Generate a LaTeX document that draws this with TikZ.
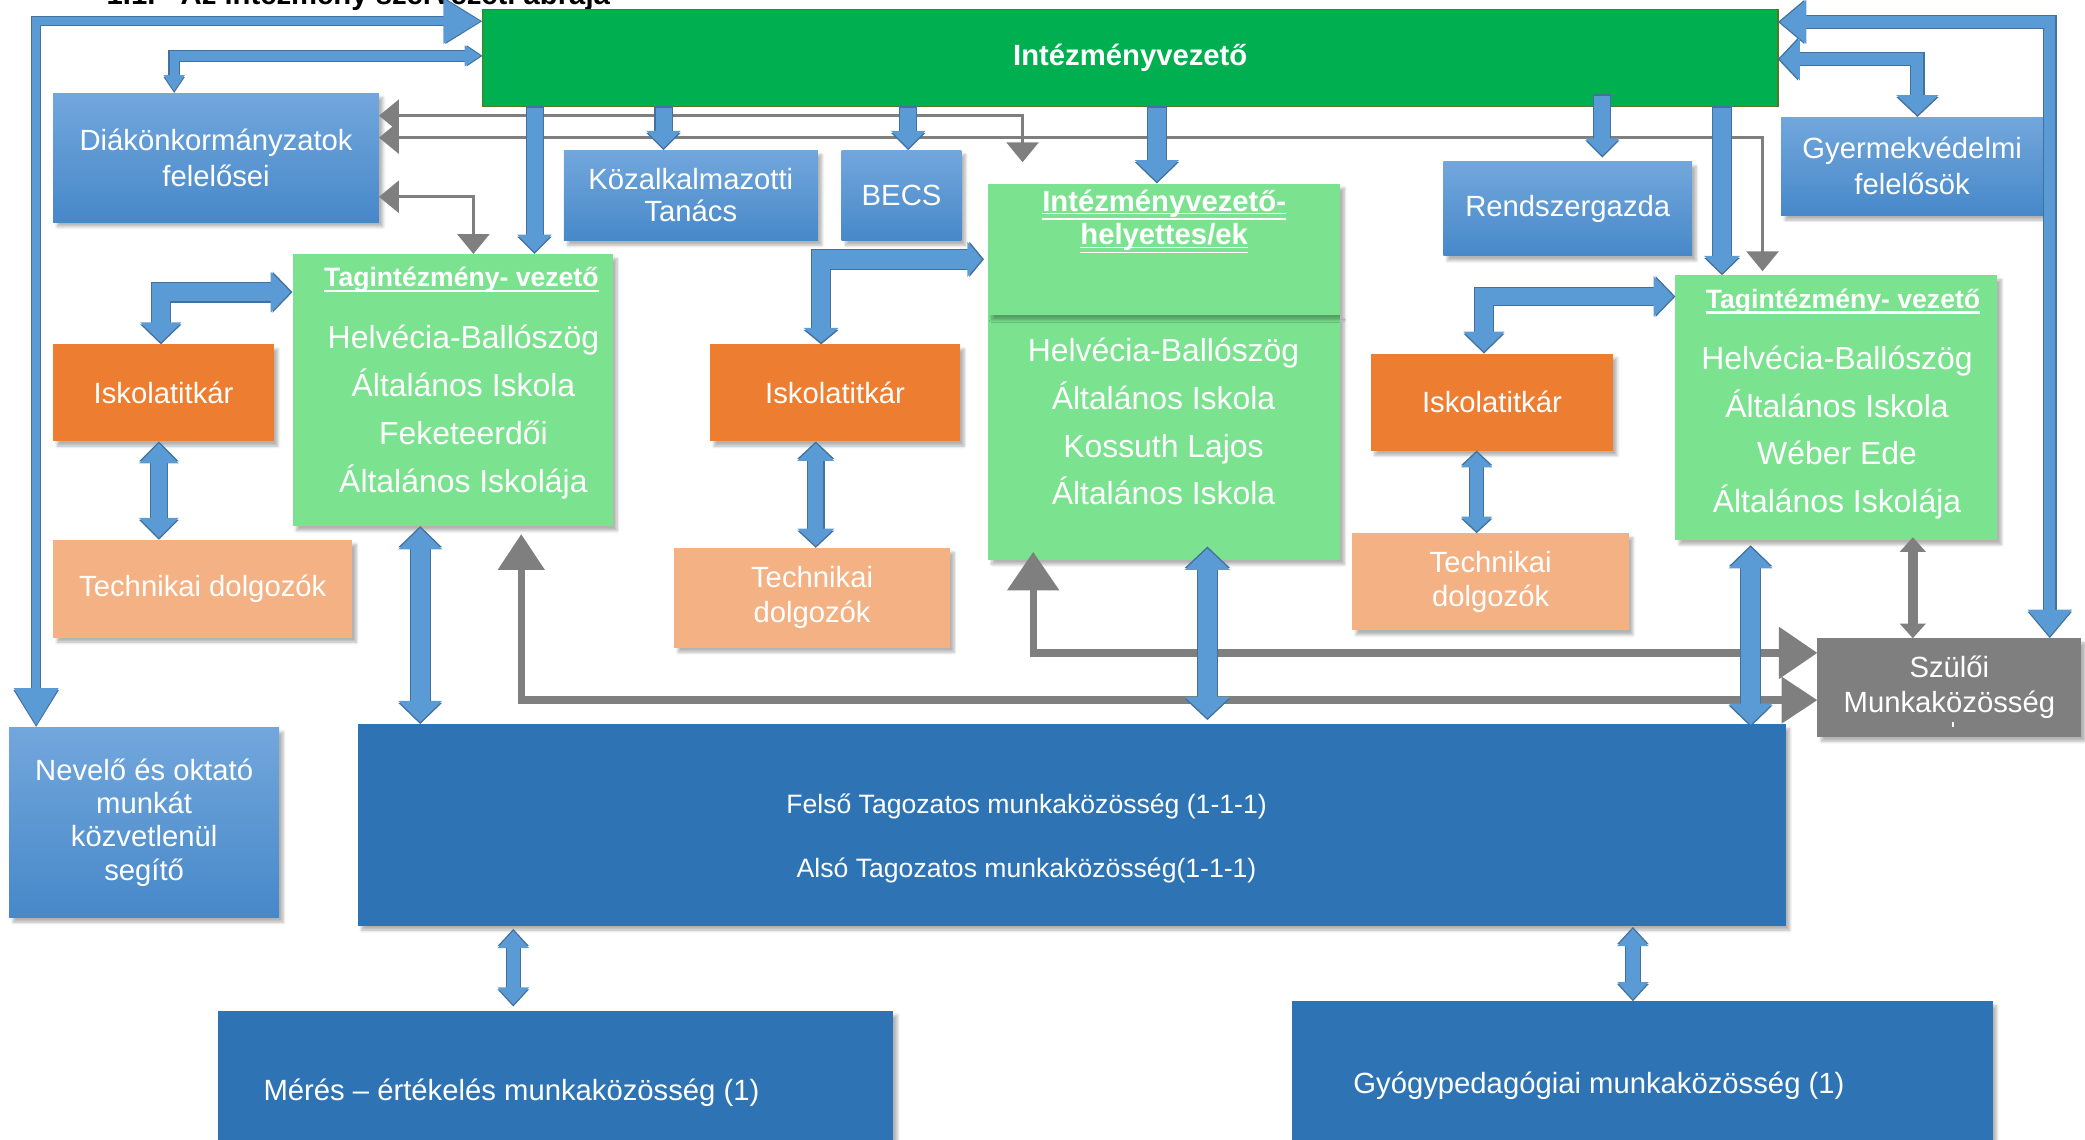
\documentclass[tikz,border=0pt]{standalone}
\usepackage{fontspec}
\setmainfont{Liberation Sans}
\usetikzlibrary{arrows.meta,shadows.blur,calc}

\definecolor{ivgreen}{HTML}{00B050}
\definecolor{ivedge}{HTML}{4F7A28}
\definecolor{lgreen}{HTML}{7BE38F}
\definecolor{orng}{HTML}{ED7D31}
\definecolor{peach}{HTML}{F4B183}
\definecolor{dblue}{HTML}{2E74B5}
\definecolor{btop}{HTML}{72A7DC}
\definecolor{bbot}{HTML}{4788C9}
\definecolor{grayc}{HTML}{7F7F7F}
\definecolor{arrfill}{HTML}{5B9BD5}
\definecolor{arredge}{HTML}{41719C}

\newcommand\fsz[2]{\fontsize{#1}{#2}\selectfont}
\newcommand\topgap[1]{\rule{0pt}{#1}}
\newcommand\hdrul[1]{\setbox0=\hbox{#1}\rlap{\rule[-4pt]{\wd0}{2pt}}\box0}
\newcommand\hdruul[1]{\setbox0=\hbox{#1}\rlap{\rule[-2.6pt]{\wd0}{1.2pt}}\rlap{\rule[-6.4pt]{\wd0}{1.2pt}}\box0}

\tikzset{
  bx/.style 2 args={rectangle, minimum width=#1, minimum height=#2, inner sep=0pt, outer sep=0pt,
    text=white, align=center, font=\fsz{22}{26}},
  sh/.style={blur shadow={shadow xshift=3pt, shadow yshift=-3.5pt, shadow blur steps=6, shadow opacity=30}},
  bluebx/.style={top color=btop, bottom color=bbot, sh},
  tagbx/.style={fill=lgreen, sh},
  iskbx/.style={fill=orng, sh},
  techbx/.style={fill=peach, sh},
  mkbx/.style={fill=dblue, sh},
  txt/.style={text=white, align=center, inner sep=0pt, anchor=north},
  blk/.style n args={3}{draw=arrfill, line width=#1, >={Triangle[width=#2,length=#3]},
    shorten >=1.5pt, shorten <=1.5pt,
    preaction={draw=arredge, line width=#1+1.6pt, shorten >=0pt, shorten <=0pt}},
  garr/.style n args={3}{draw=grayc, line width=#1, >={Triangle[width=#2,length=#3]}},
}

\begin{document}
\begin{tikzpicture}[x=1pt, y=-1pt]
\useasboundingbox (0,0) rectangle (1568,857);

\node[anchor=base west, inner sep=0pt, font=\fsz{22}{26}\bfseries] (title) at (80,3.5) {1.1.\hspace{19pt}Az intézmény szervezeti ábrája};

\node[bx={974pt}{73pt}, fill=ivgreen, draw=ivedge, line width=1.2pt, font=\fsz{22}{26}\bfseries] (ivez) at (850,43.5) {Intézményvezető};

\node[bx={245pt}{97pt}, bluebx, font=\fsz{22}{27}] (diak) at (162.5,118.5) {Diákönkormányzatok\\felelősei};
\node[bx={191pt}{68pt}, bluebx, font=\fsz{22}{24}] (kozalk) at (519.5,147) {Közalkalmazotti\\Tanács};
\node[bx={90pt}{68pt}, bluebx] (becs) at (678,147) {BECS};
\node[bx={187pt}{71pt}, bluebx] (rendsz) at (1179,157) {Rendszergazda};
\node[bx={197pt}{74pt}, bluebx, font=\fsz{22}{27}] (gyerm) at (1438,125) {Gyermekvédelmi\\felelősök};
\node[bx={203pt}{143pt}, bluebx, font=\fsz{22}{25}] (nevelo) at (108.4,618.5) {Nevelő és oktató\\munkát\\közvetlenül\\segítő};

\node[bx={265pt}{184pt}, tagbx] (helyb) at (875.5,329) {};
\node[bx={265pt}{99pt}, tagbx] (helyt) at (875.5,187.5) {};
\node[txt, font=\fsz{22}{25.5}\bfseries] (helyhdr) at (875.5,136.5) {\topgap{22pt}\hdruul{Intézményvezető-}\\\hdruul{helyettes/ek}};
\node[txt, font=\fsz{24}{36}] (helytxt) at (875,247.5) {\topgap{24pt}Helvécia-Ballószög\\Általános Iskola\\Kossuth Lajos\\Általános Iskola};

\node[bx={241pt}{204.6pt}, tagbx] (tag1) at (340.5,293.3) {};
\node[txt, font=\fsz{20}{24}\bfseries] (tag1hdr) at (347,195.6) {\topgap{20pt}\hdrul{Tagintézmény- vezető}};
\node[txt, font=\fsz{24}{36}] (tag1txt) at (348.5,238) {\topgap{24pt}Helvécia-Ballószög\\Általános Iskola\\Feketeerdői\\Általános Iskolája};

\node[bx={242pt}{199pt}, tagbx] (tag2) at (1381,306.5) {};
\node[txt, font=\fsz{20}{24}\bfseries] (tag2hdr) at (1386,211.7) {\topgap{20pt}\hdrul{Tagintézmény- vezető}};
\node[txt, font=\fsz{24}{35.7}] (tag2txt) at (1381.5,254) {\topgap{24pt}Helvécia-Ballószög\\Általános Iskola\\Wéber Ede\\Általános Iskolája};

\node[bx={166pt}{73pt}, iskbx] (isk1) at (123,295.5) {Iskolatitkár};
\node[bx={188pt}{73pt}, iskbx] (isk2) at (628,295.5) {Iskolatitkár};
\node[bx={182pt}{73pt}, iskbx] (isk3) at (1122,302.4) {Iskolatitkár};

\node[bx={225pt}{73.5pt}, techbx] (tech1) at (152.5,442.7) {Technikai dolgozók};
\node[bx={207.5pt}{75pt}, techbx] (tech2) at (610.7,449.5) {Technikai\\dolgozók};
\node[bx={208pt}{73pt}, techbx] (tech3) at (1121,437.5) {Technikai\\dolgozók};

\node[bx={198.5pt}{74pt}, fill=grayc, sh, font=\fsz{22}{26.4}] (szuloi) at (1466,517) {Szülői\\Munkaközösség};
\fill[white] (1468.3,543) rectangle (1469.5,547);

\node[bx={1073.7pt}{151.5pt}, mkbx] (felso) at (806,620.3) {};
\node[txt, font=\fsz{20}{48.4}] (felsotxt) at (772,591.6) {\topgap{20pt}Felső Tagozatos munkaközösség (1-1-1)\\Alsó Tagozatos munkaközösség(1-1-1)};

\node[bx={507.5pt}{110pt}, mkbx] (meres) at (418,815) {};
\node[anchor=base west, inner sep=0pt, text=white, font=\fsz{22}{26}] (merestxt) at (198,827.5) {Mérés – értékelés munkaközösség (1)};
\node[bx={527pt}{117pt}, mkbx] (gyogy) at (1235,811.5) {};
\node[anchor=base west, inner sep=0pt, text=white, font=\fsz{22}{26}] (gyogytxt) at (1017.6,822) {Gyógypedagógiai munkaközösség (1)};

\coordinate (t1a) at ([xshift=61.5pt]tag1.north);
\coordinate (kza) at ([xshift=-20.5pt]kozalk.north);
\coordinate (bca) at ([xshift=5pt]becs.north);
\coordinate (hta) at ([xshift=-5.5pt]helyt.north);
\coordinate (rsa) at ([xshift=26pt,yshift=3pt]rendsz.north);
\coordinate (t2a) at ([xshift=-86pt]tag2.north);
\coordinate (i1) at ([xshift=-3.5pt]isk1.south);
\coordinate (i2) at ([xshift=-14.5pt]isk2.south);
\coordinate (i3) at ([xshift=-11.5pt]isk3.south);
\coordinate (t1b) at ([xshift=-24.5pt]tag1.south);
\coordinate (hb) at ([xshift=32.5pt,yshift=10pt]helyb.south);
\coordinate (t2b) at ([xshift=-64.5pt,yshift=-4pt]tag2.south);
\coordinate (t2g) at ([xshift=57.5pt,yshift=2pt]tag2.south);
\coordinate (fm) at ([xshift=-420pt,yshift=-2.5pt]felso.south);
\coordinate (fg) at ([xshift=422pt,yshift=-1pt]felso.south);

\draw[garr={2.4pt}{24pt}{15pt}, <->] ([yshift=31.5pt]diak.east) -| ([xshift=-106.5pt,yshift=16pt]helyt.north);
\draw[garr={2.4pt}{24pt}{15pt}, <->] ([yshift=15pt]diak.east) -| ([xshift=-55.5pt,yshift=3pt]tag2.north);
\draw[garr={2.4pt}{24pt}{15pt}, <->] ([yshift=-29.5pt]diak.east) -| ([xshift=15.5pt]tag1.north);
\draw[garr={5.5pt}{34pt}{27pt}, <->] ([xshift=51.5pt,yshift=-6pt]tag1.south) |- ([yshift=-9.5pt]szuloi.west);
\draw[garr={5.5pt}{38pt}{29pt}, <->] ([xshift=-98.5pt,yshift=6pt]helyb.south) |- ([yshift=26pt]szuloi.west);
\draw[garr={8pt}{19pt}{11pt}, <->] (t2g) -- (t2g |- szuloi.north);

\draw[blk={6pt}{32pt}{28pt}, <->] ([yshift=-9pt]ivez.north west) -| ([xshift=20.3pt]nevelo.north west);
\draw[blk={7pt}{15pt}{12pt}, <->] ([yshift=1.5pt]ivez.west) -| ([xshift=-31.5pt]diak.north);
\draw[blk={8.5pt}{32pt}{20pt}, <->] ([yshift=-9.5pt]ivez.north east) -| ([xshift=75.5pt]szuloi.north);
\draw[blk={9pt}{31pt}{15pt}, <->] ([yshift=-1pt]ivez.east) -| ([xshift=4pt]gyerm.north);

\draw[blk={12pt}{25pt}{13pt}, ->] (ivez.south -| t1a) -- (t1a);
\draw[blk={12pt}{25pt}{13pt}, ->] (ivez.south -| kza) -- (kza);
\draw[blk={12pt}{25pt}{13pt}, ->] (ivez.south -| bca) -- (bca);
\draw[blk={14pt}{32pt}{16pt}, ->] (ivez.south -| hta) -- (hta);
\draw[blk={12pt}{25pt}{13pt}, ->] ($(ivez.south -| rsa)+(0,-9)$) -- (rsa);
\draw[blk={13pt}{26pt}{13pt}, ->] (ivez.south -| t2a) -- (t2a);

\draw[blk={14pt}{30pt}{15pt}, <->] ([yshift=73.6pt]tag1.west) -| ([xshift=-2pt]isk1.north);
\draw[blk={14pt}{26pt}{11pt}, <->] ([xshift=-3pt,yshift=-7.5pt]helyt.west) -| ([xshift=-10.5pt]isk2.north);
\draw[blk={13pt}{30pt}{15pt}, <->] ([yshift=83.5pt]tag2.west) -| ([xshift=-6pt]isk3.north);

\draw[blk={11.5pt}{29pt}{15pt}, <->] (i1) -- (i1 |- tech1.north);
\draw[blk={11.5pt}{27pt}{13pt}, <->] (i2) -- (i2 |- tech2.north);
\draw[blk={10pt}{23pt}{11pt}, <->] (i3) -- (i3 |- tech3.north);

\draw[blk={14pt}{32pt}{16pt}, <->] (t1b) -- (t1b |- felso.north);
\draw[blk={14pt}{33pt}{16pt}, <->] (hb) -- ($(hb |- felso.north)+(0,-3)$);
\draw[blk={14pt}{32pt}{16pt}, <->] (t2b) -- ($(t2b |- felso.north)+(0,2)$);

\draw[blk={10pt}{23pt}{13pt}, <->] (fm) -- ($(fm |- meres.north)+(0,-3)$);
\draw[blk={10pt}{23pt}{13pt}, <->] (fg) -- (fg |- gyogy.north);
\end{tikzpicture}
\end{document}
